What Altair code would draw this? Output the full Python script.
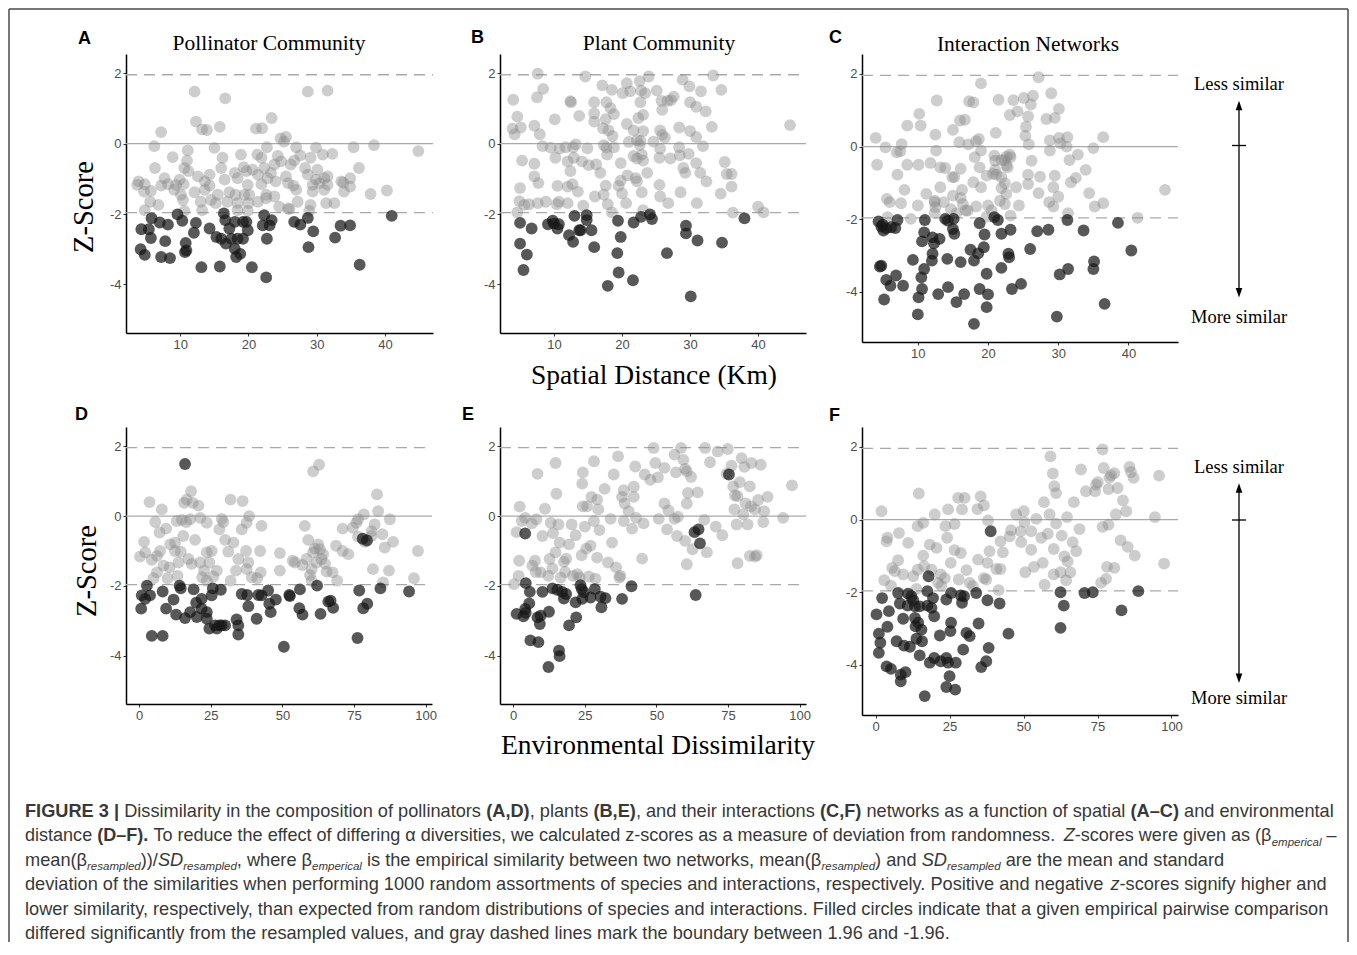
import altair as alt
import pandas as pd

SERIF = "Liberation Serif"
SANS = "Liberation Sans"

# ---------------- data (x, z-score) ----------------
A_light = [(12.1,1.48),(16.6,1.29),(28.7,1.48),(31.6,1.51),(12.3,0.63),(7.2,0.33),(13.2,0.41),(13.9,0.39),(15.8,0.48),(21.1,0.43),(22.0,0.44),(23.4,0.73),(6.2,-0.07),(15.0,-0.12),(24.7,0.15),(25.5,0.19),(25.2,0.06),(27.0,-0.10),(29.9,-0.11),(22.7,-0.10),(38.4,-0.04),(35.4,-0.10),(44.9,-0.21),(32.3,-0.29),(11.1,-0.19),(8.9,-0.38),(11.0,-0.48),(16.2,-0.40),(18.9,-0.31),(21.3,-0.31),(21.9,-0.40),(24.3,-0.35),(27.6,-0.33),(29.1,-0.40),(30.9,-0.31),(6.3,-0.69),(10.6,-0.69),(16.0,-0.69),(20.6,-0.74),(19.3,-0.67),(22.3,-0.69),(23.8,-0.59),(24.8,-0.50),(26.2,-0.59),(26.7,-0.48),(28.3,-0.69),(30.1,-0.74),(36.2,-0.69),(11.2,-0.78),(18.0,-0.83),(19.7,-0.78),(21.4,-0.88),(23.3,-0.83),(25.5,-0.93),(28.7,-0.88),(31.6,-0.93),(3.9,-1.07),(7.7,-0.98),(9.9,-1.02),(12.6,-0.93),(14.3,-0.88),(16.5,-1.02),(18.4,-0.98),(22.8,-0.98),(25.8,-1.12),(29.9,-1.02),(31.1,-0.98),(33.6,-1.07),(34.9,-0.98),(3.7,-1.17),(4.8,-1.15),(7.2,-1.19),(8.2,-1.15),(9.4,-1.17),(10.5,-1.15),(13.6,-1.07),(14.3,-1.19),(19.9,-1.17),(21.9,-1.15),(24.0,-1.07),(26.6,-1.19),(29.4,-1.17),(30.4,-1.12),(31.6,-1.17),(33.9,-1.11),(34.9,-1.22),(40.3,-1.33),(4.7,-1.36),(5.7,-1.34),(9.1,-1.31),(10.1,-1.45),(12.1,-1.38),(13.6,-1.31),(15.5,-1.45),(17.2,-1.38),(18.1,-1.45),(19.4,-1.45),(20.1,-1.45),(22.6,-1.45),(23.8,-1.50),(27.0,-1.31),(29.4,-1.36),(31.1,-1.31),(34.0,-1.36),(37.9,-1.43),(5.6,-1.65),(6.8,-1.74),(10.4,-1.60),(13.0,-1.65),(14.5,-1.60),(15.2,-1.69),(16.9,-1.65),(18.4,-1.69),(20.0,-1.69),(21.4,-1.65),(22.6,-1.55),(24.5,-1.79),(25.8,-1.84),(27.2,-1.65),(29.1,-1.74),(31.4,-1.69),(32.6,-1.69),(4.8,-1.89),(10.6,-1.91),(13.2,-1.89),(18.4,-1.89),(19.9,-1.91),(26.0,-1.86),(28.9,-1.91)]
A_dark = [(4.3,-2.43),(5.8,-2.12),(5.4,-2.43),(5.7,-2.68),(7.0,-2.24),(8.2,-2.30),(7.8,-2.77),(4.2,-3.00),(4.8,-3.16),(7.2,-3.22),(8.5,-3.25),(9.6,-2.01),(10.3,-2.19),(10.8,-2.82),(10.7,-3.08),(10.9,-3.03),(12.3,-2.25),(12.0,-2.53),(13.1,-3.51),(14.3,-2.41),(15.3,-2.65),(15.8,-3.49),(16.4,-1.98),(16.6,-2.17),(16.0,-2.70),(16.7,-2.84),(17.2,-2.41),(17.5,-2.70),(18.0,-2.22),(18.0,-2.99),(18.2,-3.22),(18.4,-2.70),(18.8,-3.13),(19.2,-2.22),(19.2,-2.70),(19.7,-2.22),(19.9,-2.46),(20.5,-3.51),(22.3,-2.03),(22.1,-2.32),(22.7,-2.70),(22.6,-3.80),(23.4,-2.17),(23.1,-2.32),(26.7,-2.22),(27.6,-2.30),(28.7,-2.11),(29.5,-2.49),(28.8,-2.94),(32.7,-2.67),(33.5,-2.33),(34.9,-2.32),(36.3,-3.44),(41.0,-2.05)]

B_light = [(7.6,1.99),(14.6,1.91),(23.9,1.91),(33.4,1.94),(4.0,1.25),(7.5,1.32),(8.4,1.56),(17.1,1.66),(18.5,1.53),(20.7,1.72),(21.2,1.49),(20.1,1.44),(22.6,1.78),(22.8,1.51),(23.4,1.44),(25.1,1.51),(27.6,1.34),(27.2,1.24),(28.9,1.82),(29.9,1.63),(31.6,1.49),(34.6,1.53),(12.5,1.18),(12.4,1.21),(15.9,1.18),(17.7,1.18),(18.3,1.01),(22.7,1.18),(25.8,1.22),(25.9,0.96),(26.7,1.22),(30.0,1.18),(30.9,1.05),(32.3,0.92),(4.6,0.77),(10.1,0.69),(13.7,0.79),(15.9,0.86),(17.6,0.70),(18.8,0.84),(23.1,0.82),(22.4,0.73),(4.2,0.27),(5.1,0.46),(3.9,0.43),(7.1,0.51),(7.9,0.27),(15.9,0.63),(17.2,0.44),(18.0,0.38),(18.6,0.22),(20.7,0.56),(21.7,0.38),(23.1,0.36),(25.6,0.38),(25.9,0.25),(26.3,0.17),(28.4,0.46),(30.0,0.36),(30.9,0.19),(33.2,0.48),(44.7,0.53),(8.3,-0.07),(9.5,-0.11),(10.8,-0.14),(11.7,-0.10),(12.8,-0.10),(13.2,-0.02),(14.9,-0.13),(17.3,-0.04),(17.7,-0.11),(18.8,-0.10),(21.0,0.05),(22.2,0.10),(22.7,0.08),(22.6,-0.04),(24.6,0.06),(25.6,-0.14),(28.4,-0.10),(31.9,-0.07),(10.2,-0.40),(12.0,-0.50),(12.9,-0.40),(14.1,-0.50),(15.1,-0.61),(16.2,-0.59),(17.8,-0.31),(19.8,-0.55),(21.7,-0.35),(22.2,-0.42),(22.9,-0.31),(23.1,-0.48),(25.5,-0.40),(27.1,-0.42),(28.5,-0.33),(29.8,-0.29),(5.3,-0.48),(7.1,-0.57),(12.4,-0.78),(16.8,-0.83),(23.7,-0.83),(29.0,-0.69),(29.3,-0.83),(30.9,-0.55),(31.5,-0.83),(35.1,-0.52),(35.4,-0.86),(36.1,-0.86),(7.1,-0.93),(7.7,-1.12),(10.5,-1.20),(12.0,-1.22),(12.7,-1.15),(17.6,-1.19),(19.8,-1.05),(20.8,-0.90),(22.0,-0.98),(22.2,-1.07),(25.5,-1.17),(32.4,-1.07),(36.1,-1.22),(5.0,-1.26),(13.5,-1.36),(19.5,-1.20),(20.0,-1.41),(22.9,-1.38),(28.6,-1.38),(34.5,-1.42),(16.0,-1.50),(17.3,-1.45),(25.6,-1.50),(31.0,-1.69),(4.9,-1.63),(5.6,-1.74),(6.3,-1.72),(7.6,-1.69),(8.8,-1.65),(10.4,-1.72),(10.7,-1.65),(12.0,-1.69),(14.3,-1.76),(17.9,-1.72),(20.6,-1.69),(23.1,-1.89),(26.8,-1.69),(4.6,-1.95),(18.5,-1.95),(36.3,-1.96),(40.0,-1.79),(40.8,-1.95)]
B_dark = [(5.0,-2.25),(6.7,-2.41),(5.0,-2.84),(6.0,-3.15),(5.5,-3.59),(9.1,-2.29),(9.8,-2.19),(10.0,-2.27),(10.5,-2.41),(10.7,-2.29),(12.2,-2.60),(12.8,-2.79),(13.0,-2.05),(13.7,-2.46),(13.9,-2.46),(14.8,-2.03),(14.8,-2.17),(15.5,-2.46),(15.9,-2.94),(19.4,-2.19),(19.8,-2.65),(19.3,-3.11),(19.5,-3.66),(17.9,-4.04),(21.7,-2.24),(21.6,-3.88),(22.8,-2.08),(24.1,-2.01),(24.4,-2.14),(29.4,-2.33),(29.4,-2.55),(31.1,-2.75),(26.6,-3.11),(30.1,-4.34),(34.7,-2.81),(38.0,-2.12)]

C_light = [(4.0,0.24),(4.2,-0.50),(5.4,-0.02),(7.0,-0.16),(7.5,-0.13),(7.7,0.07),(8.5,0.58),(10.2,0.90),(10.4,0.58),(12.7,1.27),(12.5,0.33),(12.6,-0.11),(7.1,-0.77),(8.5,-0.50),(10.1,-0.50),(11.8,-0.45),(13.2,-0.57),(13.9,-0.59),(15.0,0.46),(16.0,0.72),(16.7,0.74),(15.9,0.12),(16.1,-0.61),(15.2,-0.84),(17.2,0.06),(17.3,1.25),(17.9,1.22),(19.0,1.74),(18.3,0.15),(18.7,0.21),(19.0,-0.11),(18.1,-0.29),(18.8,-0.57),(17.9,-0.98),(19.0,-1.12),(21.1,0.38),(21.5,1.29),(23.6,1.28),(23.1,0.87),(24.2,0.97),(25.1,1.34),(26.4,1.40),(26.1,1.16),(27.2,1.91),(29.0,1.47),(30.1,1.04),(28.3,0.76),(29.5,0.79),(25.4,0.55),(25.7,0.83),(25.3,0.30),(25.8,0.06),(28.8,0.17),(30.1,0.24),(30.3,0.09),(31.3,0.26),(31.2,0.00),(36.4,0.26),(35.0,-0.04),(28.8,-0.11),(32.8,-0.22),(31.6,-0.37),(33.9,-0.64),(32.5,-0.86),(31.8,-0.98),(34.4,-1.28),(35.2,-1.65),(36.4,-1.56),(45.2,-1.19),(41.3,-1.96),(31.4,-1.83),(29.3,-1.12),(30.0,-1.38),(28.7,-1.53),(29.3,-1.65),(27.2,-1.28),(27.4,-0.83),(29.5,-0.80),(25.7,-0.77),(25.7,-1.03),(26.2,-0.39),(23.1,-0.22),(22.6,-0.28),(22.4,-0.37),(23.2,-0.29),(21.9,-0.37),(21.0,-0.39),(21.2,-0.77),(21.0,-0.64),(22.6,-0.52),(22.8,-0.57),(21.9,-0.84),(22.4,-1.01),(21.9,-1.14),(22.6,-1.30),(21.7,-1.49),(22.4,-1.58),(24.0,-1.12),(24.4,-1.62),(23.2,-1.90),(20.0,-1.62),(19.8,-1.93),(20.5,-1.76),(18.3,-1.65),(17.1,-1.76),(16.8,-1.76),(16.3,-1.19),(16.1,-1.41),(15.0,-1.35),(16.4,-1.58),(15.5,-1.83),(14.7,-1.72),(13.7,-1.53),(13.2,-1.12),(12.4,-1.53),(12.5,-1.67),(12.4,-1.83),(12.4,-1.49),(11.2,-1.30),(10.0,-1.62),(9.0,-1.99),(8.1,-1.19),(7.6,-1.56),(5.6,-1.44),(6.0,-1.53),(5.7,-1.94),(14.9,-0.84),(20.7,-0.75),(20.9,-0.25),(19.8,-0.80)]
C_dark = [(4.4,-2.06),(5.0,-2.15),(4.8,-2.20),(5.1,-2.31),(5.5,-2.25),(6.2,-2.22),(6.8,-2.24),(7.1,-2.02),(4.8,-3.28),(4.6,-3.30),(5.5,-3.67),(6.1,-3.83),(6.9,-3.55),(7.9,-3.83),(5.2,-4.21),(9.3,-3.12),(10.0,-4.62),(10.1,-4.15),(10.6,-3.92),(10.5,-3.60),(10.9,-3.37),(11.0,-2.02),(10.9,-2.36),(10.6,-2.61),(12.1,-2.50),(12.3,-2.66),(12.1,-2.95),(12.0,-3.14),(13.1,-2.54),(12.9,-4.06),(13.9,-1.99),(14.3,-2.04),(15.0,-2.27),(15.2,-2.40),(15.1,-1.99),(14.2,-3.09),(14.3,-3.87),(16.1,-3.18),(15.5,-4.28),(16.6,-4.06),(17.5,-2.84),(18.0,-3.14),(18.6,-2.94),(19.4,-2.77),(18.8,-2.11),(19.5,-2.42),(18.8,-3.92),(20.0,-4.07),(19.8,-4.42),(18.0,-4.88),(19.8,-3.50),(20.9,-1.94),(21.4,-2.02),(21.9,-2.40),(21.9,-3.34),(22.9,-2.95),(23.0,-3.05),(23.2,-2.29),(23.4,-3.92),(24.7,-3.78),(26.0,-2.82),(27.0,-2.33),(28.6,-2.29),(31.3,-2.02),(33.6,-2.31),(38.5,-2.10),(30.2,-3.52),(31.4,-3.37),(35.0,-3.37),(35.1,-3.16),(29.8,-4.68),(36.6,-4.33),(40.4,-2.86)]

D_light = [(3.6,0.40),(0.3,-1.16),(1.7,-0.74),(2.1,-1.04),(4.4,-1.25),(6.2,-1.14),(5.6,-0.17),(7.1,-0.47),(7.9,0.19),(9.4,-0.36),(7.3,-1.00),(8.5,-1.42),(6.2,-1.61),(5.0,-1.78),(9.9,-1.78),(10.6,-1.47),(10.8,-0.81),(12.5,-0.76),(13.1,-0.14),(14.9,-0.11),(15.7,0.38),(16.6,0.47),(18.1,0.71),(18.7,0.38),(20.7,0.30),(17.8,-0.09),(16.4,-0.17),(12.5,-1.00),(13.7,-1.33),(13.4,-1.71),(15.4,-0.57),(14.5,-1.02),(17.2,-1.23),(18.3,-1.37),(19.5,-0.68),(21.3,-0.05),(23.6,-0.19),(22.6,-1.56),(23.6,-1.04),(24.5,-1.33),(25.3,-1.00),(25.9,-1.73),(23.6,-1.85),(27.1,-1.56),(28.0,-0.38),(28.8,-0.08),(29.4,-0.17),(30.0,-0.68),(31.1,-1.02),(31.9,0.47),(32.9,-0.76),(31.9,-1.85),(34.6,-1.23),(33.8,-1.56),(36.1,0.43),(35.8,-0.38),(37.5,-0.19),(38.4,0.00),(37.3,-1.00),(37.5,-1.52),(38.1,-1.33),(39.3,-1.75),(41.2,-1.78),(42.7,-0.28),(42.2,-1.00),(42.4,-1.61),(49.1,-1.06),(49.1,-1.56),(53.6,-1.28),(54.4,-1.33),(57.8,-0.28),(57.0,-1.40),(59.0,-0.68),(58.4,-1.23),(60.2,-1.52),(59.6,-1.69),(60.2,-1.85),(60.7,1.28),(62.8,1.47),(60.7,-1.04),(61.3,-0.93),(62.5,-0.81),(63.1,-0.95),(64.2,-1.09),(63.6,-1.23),(64.9,-1.37),(65.4,-1.59),(61.9,-1.33),(67.5,-1.61),(68.7,-0.85),(69.1,-1.85),(71.0,-0.36),(71.0,-1.00),(73.0,-1.09),(74.5,-0.33),(75.8,-0.19),(76.4,-0.09),(76.4,-0.59),(78.4,0.05),(78.7,-0.74),(81.1,-0.43),(81.1,-0.57),(82.2,-0.24),(83.0,0.62),(83.4,0.14),(81.6,-1.52),(84.9,-0.52),(85.7,-0.90),(85.1,-1.90),(87.2,-1.56),(87.5,-0.09),(88.6,-0.74),(97.3,-1.00),(95.9,-1.78),(21.3,-1.33),(22.0,-1.75)]
D_dark = [(16.0,1.49),(0.7,-2.65),(0.9,-2.27),(2.1,-2.37),(2.7,-1.99),(3.8,-2.27),(4.4,-3.43),(8.2,-2.16),(8.2,-3.43),(9.4,-2.65),(12.0,-2.39),(12.9,-2.82),(14.1,-1.99),(14.5,-2.07),(16.0,-2.92),(17.8,-2.75),(19.0,-2.10),(19.9,-2.48),(20.1,-2.89),(21.8,-2.37),(21.8,-2.65),(23.6,-2.75),(23.6,-2.94),(24.5,-3.22),(25.3,-2.27),(25.7,-2.07),(26.5,-3.13),(27.1,-3.22),(28.0,-3.13),(28.8,-3.13),(28.5,-2.11),(30.0,-3.13),(34.0,-2.96),(34.6,-3.13),(34.6,-3.39),(35.8,-2.23),(37.7,-2.26),(38.1,-2.58),(41.0,-2.94),(41.6,-2.26),(42.7,-2.27),(45.0,-2.13),(45.4,-2.51),(45.9,-2.75),(47.7,-2.39),(50.5,-3.74),(52.4,-2.26),(52.6,-2.29),(56.1,-2.10),(55.9,-2.64),(57.0,-2.82),(62.1,-1.99),(63.3,-2.80),(66.0,-2.45),(66.8,-2.42),(67.7,-2.63),(76.8,-2.13),(76.2,-3.49),(78.2,-2.64),(79.6,-2.51),(84.2,-2.07),(94.2,-2.16),(78.0,-0.65),(79.5,-0.70)]

E_light = [(0.3,-1.95),(1.9,-1.71),(2.1,-1.28),(1.2,-0.46),(2.3,0.27),(3.0,-0.14),(4.2,-0.05),(6.5,-0.21),(8.1,-0.09),(8.5,1.21),(6.7,-1.42),(7.6,-1.28),(7.9,-1.60),(9.6,-1.61),(10.2,-0.57),(11.1,0.21),(12.3,-1.71),(12.7,-1.23),(13.1,-0.19),(13.7,-1.50),(13.9,-0.49),(14.8,1.52),(15.1,0.64),(15.8,-0.24),(14.8,-1.04),(16.2,-0.76),(16.6,-1.76),(17.7,-1.31),(18.1,-1.60),(18.5,-1.22),(19.5,-0.81),(20.4,-0.24),(20.9,-1.71),(21.8,-0.55),(22.4,-1.66),(23.2,-1.76),(23.9,-1.12),(24.1,0.93),(24.3,1.25),(24.3,0.28),(25.5,-0.93),(25.8,0.28),(25.0,-0.30),(26.4,-1.73),(27.0,-0.85),(27.3,0.55),(28.2,1.57),(28.2,-0.14),(28.7,-1.79),(29.3,0.47),(29.7,0.19),(29.3,-1.19),(30.1,-0.40),(31.9,0.78),(33.1,-1.33),(34.0,-0.08),(34.5,-0.76),(35.1,1.19),(35.9,-1.47),(36.6,1.71),(37.1,-1.76),(37.4,-1.71),(38.0,0.55),(38.6,0.74),(38.9,0.36),(38.6,-0.14),(40.3,0.14),(41.5,-0.36),(42.1,0.84),(42.1,0.55),(42.6,1.42),(42.9,-0.05),(45.0,-1.22),(45.5,-0.21),(45.9,1.19),(47.9,1.04),(49.0,1.95),(49.6,1.52),(50.5,1.11),(50.8,-0.08),(52.8,1.38),(52.8,0.36),(54.2,0.16),(53.7,-0.38),(56.3,1.76),(56.8,1.25),(56.3,-0.08),(57.5,-0.02),(57.2,-0.57),(58.6,1.95),(59.4,1.61),(60.0,1.35),(60.6,1.28),(62.1,1.12),(60.6,0.36),(61.0,0.66),(60.6,-1.38),(60.0,-0.71),(62.6,-0.95),(64.4,0.68),(66.7,-0.11),(67.0,1.95),(67.6,-1.04),(68.7,1.54),(70.7,-0.30),(71.4,1.85),(73.0,-0.55),(74.5,1.21),(74.9,1.92),(76.2,1.44),(76.8,0.85),(77.2,0.19),(77.4,0.59),(78.3,0.57),(78.0,-0.24),(78.3,-1.35),(79.1,0.97),(79.7,1.66),(80.3,0.05),(80.7,1.41),(81.1,0.36),(81.8,-0.24),(82.6,0.85),(83.2,1.52),(82.6,-1.14),(84.4,-1.16),(85.0,-1.12),(84.4,0.19),(85.5,0.46),(86.4,1.47),(87.3,-0.17),(87.6,0.14),(88.8,0.55),(94.2,-0.05),(97.3,0.88),(83.0,0.28)]
E_dark = [(1.2,-2.80),(3.6,-2.87),(4.2,-0.50),(4.4,-1.92),(4.2,-2.66),(5.6,-2.50),(5.8,-2.17),(4.4,-2.77),(6.0,-3.56),(8.8,-3.61),(8.5,-2.90),(9.3,-3.09),(9.6,-2.85),(10.2,-2.17),(12.5,-2.74),(12.3,-4.32),(13.7,-2.07),(15.4,-2.11),(16.0,-3.85),(16.2,-4.01),(17.1,-2.17),(17.7,-2.36),(18.5,-2.23),(19.5,-3.13),(21.8,-2.47),(22.0,-2.90),(23.5,-1.98),(24.1,-2.37),(23.9,-2.09),(24.7,-2.18),(27.0,-2.33),(28.5,-2.09),(30.5,-2.31),(30.8,-2.61),(32.2,-2.35),(38.0,-2.37),(41.3,-2.01),(63.7,-2.26),(75.3,1.19),(63.3,-0.46),(64.7,-0.38),(65.2,-0.78)]

F_light = [(2.0,0.23),(4.0,-0.50),(3.7,-0.60),(2.9,-1.67),(5.2,-1.82),(5.6,-1.33),(6.5,-1.42),(7.6,-1.12),(7.9,-0.37),(9.3,-1.51),(11.0,-0.64),(12.7,-1.56),(14.2,-1.38),(14.6,0.72),(14.2,-0.18),(16.1,-0.09),(16.1,-0.99),(16.4,-1.28),(13.8,-1.91),(18.3,-0.69),(18.9,-1.38),(20.0,0.14),(20.6,-0.78),(21.1,-1.74),(22.0,-1.51),(23.4,-1.61),(22.2,-1.82),(23.6,-0.18),(24.2,-0.50),(24.5,0.28),(25.4,-1.19),(26.7,-0.12),(26.7,-0.84),(27.9,0.60),(28.1,-1.65),(28.8,-0.92),(29.2,0.28),(30.1,0.60),(30.7,-1.39),(31.8,-1.74),(32.9,-1.83),(34.4,0.29),(34.6,-1.10),(35.5,0.64),(36.6,0.39),(36.6,-1.61),(37.4,-1.65),(37.8,-1.19),(38.0,-0.02),(38.5,-0.87),(40.8,-1.36),(41.6,-1.94),(42.2,-0.60),(43.0,-0.90),(42.2,-1.36),(45.3,-0.46),(45.8,-0.29),(47.5,0.14),(49.0,-0.32),(49.2,-0.62),(50.1,0.23),(50.3,-0.07),(50.6,-1.45),(52.6,-0.32),(52.6,-0.83),(53.5,-1.30),(54.3,0.02),(56.0,-0.50),(56.5,-1.19),(56.9,0.48),(57.1,-1.79),(58.2,-0.39),(58.8,0.14),(59.1,1.74),(59.9,1.27),(60.2,-1.51),(60.4,0.92),(61.0,0.73),(60.2,-0.81),(61.0,-0.11),(62.5,-1.45),(62.9,-0.44),(63.8,-1.01),(64.7,0.07),(64.9,-1.15),(65.8,-1.45),(64.4,-1.67),(66.6,-0.62),(67.0,0.48),(67.8,-0.87),(68.9,-0.26),(69.4,1.38),(71.1,0.78),(74.2,0.78),(74.5,0.96),(75.1,1.03),(76.2,-1.74),(76.7,1.93),(77.1,1.42),(76.7,-0.20),(77.9,-1.63),(78.2,-1.30),(78.7,0.84),(78.7,-0.14),(79.0,1.15),(79.6,1.22),(80.7,1.28),(81.2,0.14),(81.8,0.87),(80.7,-1.33),(82.8,-0.57),(83.6,0.53),(84.7,0.23),(85.2,-0.75),(85.8,1.45),(86.3,1.31),(87.2,1.15),(87.6,-0.99),(94.4,0.07),(95.8,1.21),(97.5,-1.21)]
F_dark = [(2.2,-2.16),(0.3,-2.61),(4.5,-2.52),(4.0,-2.95),(1.1,-3.14),(1.6,-3.39),(1.1,-3.67),(3.7,-4.04),(5.2,-4.11),(7.1,-3.35),(7.6,-2.02),(8.2,-2.31),(8.5,-4.27),(8.5,-4.45),(9.3,-2.73),(9.6,-3.47),(10.1,-4.20),(11.0,-2.04),(10.8,-2.37),(11.6,-3.50),(12.1,-2.11),(12.7,-2.22),(13.3,-2.39),(13.3,-2.71),(13.5,-2.94),(13.8,-3.28),(14.4,-2.84),(14.9,-2.39),(14.9,-3.74),(15.5,-3.03),(15.7,-3.35),(16.6,-4.86),(17.5,-1.97),(17.5,-2.37),(17.9,-1.56),(18.3,-3.94),(18.9,-2.43),(19.4,-2.16),(19.8,-2.66),(19.8,-3.81),(21.7,-3.19),(22.0,-3.90),(23.9,-2.20),(23.9,-3.81),(24.5,-3.94),(23.9,-4.61),(25.0,-4.31),(25.3,-3.07),(25.5,-2.84),(25.5,-2.02),(27.1,-3.94),(26.9,-4.68),(28.8,-2.09),(29.2,-2.29),(29.9,-2.11),(30.7,-3.12),(31.8,-3.21),(29.6,-3.58),(34.0,-2.02),(34.8,-2.86),(35.7,-4.06),(37.4,-3.90),(38.2,-3.53),(37.8,-2.22),(38.9,-0.32),(41.9,-2.31),(44.9,-3.14),(62.5,-2.00),(63.6,-2.37),(62.5,-2.98),(70.6,-2.02),(73.4,-2.00),(83.1,-2.50),(88.8,-1.97)]

SIG_BOUNDS = [1.96, -1.96]
ZERO_LINE = [0]
Y_TICKS = [-4, -2, 0, 2]
X_TICKS_SPATIAL = [10, 20, 30, 40]
X_TICKS_ENV = [0, 25, 50, 75, 100]

YDOM = [-5.38, 2.55]
XDOM_S = [2.05, 47.05]
XDOM_E = [-4.6, 102.2]


def one(v):
    return pd.DataFrame({"t": [v]})


def txt(s, x, y, **kw):
    return alt.Chart(one(s)).mark_text(**kw).encode(text="t:N", x=alt.value(x), y=alt.value(y))


def panel(light, dark, xdom, xticks, cell_w, w, h, letter, lpos, title=None, tpos=None,
          ytitle=None, xtitle=None, similar=None):
    df = pd.DataFrame([{"x": x, "z": z, "grp": "ns"} for x, z in light] +
                      [{"x": x, "z": z, "grp": "sig"} for x, z in dark])
    xs = alt.Scale(domain=xdom, nice=False, zero=False, range=[0, w])
    ys = alt.Scale(domain=YDOM, nice=False, zero=False)
    common = dict(grid=False, title=None, domainColor="black", domainWidth=1.5,
                  tickColor="#333333", tickSize=3, tickWidth=1, labelColor="#4d4d4d",
                  labelFont=SANS, labelFontSize=13, labelPadding=2,
                  labelExpr="'' + datum.value")
    xaxis = alt.Axis(values=xticks, **common)
    yaxis = alt.Axis(values=Y_TICKS, **common)
    X = alt.X("x:Q", scale=xs, axis=xaxis)
    Y = alt.Y("z:Q", scale=ys, axis=yaxis)

    zero = alt.Chart(pd.DataFrame({"z": ZERO_LINE})).mark_rule(
        color="#a9a9a9", strokeWidth=1.3).encode(y=Y, x=alt.value(0), x2=alt.value(w))
    dash = alt.Chart(pd.DataFrame({"z": SIG_BOUNDS})).mark_rule(
        color="#a9a9a9", strokeWidth=1.3, strokeDash=[11, 7]).encode(
        y=Y, x=alt.value(0), x2=alt.value(w))
    pts = alt.Chart(df).mark_circle(size=140, strokeWidth=0).encode(
        x=X, y=Y,
        color=alt.condition(alt.datum.grp == "sig", alt.value("#181818"), alt.value("#888888")),
        opacity=alt.condition(alt.datum.grp == "sig", alt.value(0.72), alt.value(0.42)),
    )
    layers = [zero, dash, pts,
              txt(letter, lpos[0], lpos[1], font=SANS, fontWeight="bold", fontSize=18,
                  align="left", baseline="alphabetic", color="black")]
    if title:
        layers.append(txt(title, tpos[0], tpos[1], font=SERIF, fontSize=21.5, align="center",
                          baseline="alphabetic", color="black"))
    if ytitle:
        layers.append(txt("Z-Score", ytitle[0], ytitle[1], font=SERIF, fontSize=28.5,
                          align="center", baseline="middle", angle=270, color="black"))
    if xtitle:
        layers.append(txt(xtitle[0], xtitle[1], xtitle[2], font=SERIF, fontSize=27.5,
                          align="center", baseline="alphabetic", color="black"))
    if similar:
        ax, less_y, top_tip, bot_tip, tick_y, more_y = similar
        layers += [
            txt("Less similar", ax, less_y, font=SERIF, fontSize=18.5, align="center",
                baseline="middle", color="black"),
            txt("More similar", ax, more_y, font=SERIF, fontSize=18.5, align="center",
                baseline="middle", color="black"),
            alt.Chart(one("a")).mark_rule(color="black", strokeWidth=1.3).encode(
                x=alt.value(ax), y=alt.value(top_tip + 4), y2=alt.value(bot_tip - 4)),
            alt.Chart(one("a")).mark_rule(color="black", strokeWidth=1.3).encode(
                x=alt.value(ax - 7), x2=alt.value(ax + 7), y=alt.value(tick_y)),
            alt.Chart(one("a")).mark_point(shape="M0,-1L0.7,1L-0.7,1Z", filled=True,
                                           color="black", opacity=1, size=90).encode(
                x=alt.value(ax), y=alt.value(top_tip + 4.7)),
            alt.Chart(one("a")).mark_point(shape="M0,1L0.7,-1L-0.7,-1Z", filled=True,
                                           color="black", opacity=1, size=90).encode(
                x=alt.value(ax), y=alt.value(bot_tip - 4.7)),
        ]
    return alt.layer(*layers).properties(width=cell_w, height=h)


# grid cells: column lefts at 125, 499, 861 with a 56 px column gap
A = panel(A_light, A_dark, XDOM_S, X_TICKS_SPATIAL, 318, 307, 279, "A", (-48, -10),
          "Pollinator Community", (143, -4.5), ytitle=(-42, 153))
B = panel(B_light, B_dark, XDOM_S, X_TICKS_SPATIAL, 306, 306, 279, "B", (-29, -11),
          "Plant Community", (159, -4.5), xtitle=("Spatial Distance (Km)", 154, 330))
C = panel(C_light, C_dark, XDOM_S, X_TICKS_SPATIAL, 316, 316, 288, "C", (-33, -11),
          "Interaction Networks", (166, -3.5),
          similar=(377, 29.7, 46.7, 243.4, 91.5, 263.4))
D = panel(D_light, D_dark, XDOM_E, X_TICKS_ENV, 318, 306, 277, "D", (-51, -7), ytitle=(-39, 144))
E = panel(E_light, E_dark, XDOM_E, X_TICKS_ENV, 306, 306, 277, "E", (-38, -7),
          xtitle=("Environmental Dissimilarity", 158, 327))
F = panel(F_light, F_dark, XDOM_E, X_TICKS_ENV, 316, 316, 288, "F", (-33, -6),
          similar=(377, 40.3, 56.3, 256, 93, 271))

# ---------------- caption ----------------
REG = {' ': 278, '!': 278, '"': 355, '#': 556, '$': 556, '%': 889, '&': 667, "'": 191, '(': 333,
       ')': 333, '*': 389, '+': 584, ',': 278, '-': 333, '.': 278, '/': 278, ':': 278, ';': 278,
       '?': 556, '|': 260, '–': 556, 'α': 578, 'β': 575,
       'A': 667, 'B': 667, 'C': 722, 'D': 722, 'E': 667, 'F': 611, 'G': 778, 'H': 722, 'I': 278,
       'J': 500, 'K': 667, 'L': 556, 'M': 833, 'N': 722, 'O': 778, 'P': 667, 'Q': 778, 'R': 722,
       'S': 667, 'T': 611, 'U': 722, 'V': 667, 'W': 944, 'X': 667, 'Y': 667, 'Z': 611,
       'a': 556, 'b': 556, 'c': 500, 'd': 556, 'e': 556, 'f': 278, 'g': 556, 'h': 556, 'i': 222,
       'j': 222, 'k': 500, 'l': 222, 'm': 833, 'n': 556, 'o': 556, 'p': 556, 'q': 556, 'r': 333,
       's': 500, 't': 278, 'u': 556, 'v': 500, 'w': 722, 'x': 500, 'y': 500, 'z': 500}
for d in "0123456789":
    REG[d] = 556
BOLD = dict(REG)
BOLD.update({'A': 722, 'B': 722, 'E': 667, 'F': 611, 'G': 778, 'I': 278, 'R': 722, 'U': 722,
             '|': 280, 'D': 722, 'C': 722})

LINE_SIZES = [18.2, 18.05, 18.2, 18.2, 18.2, 18.2]
SUB_SIZE = 11.5

caption_lines = [
    [("FIGURE 3 |", "b"), (" Dissimilarity in the composition of pollinators ", "r"), ("(A,D)", "b"),
     (", plants ", "r"), ("(B,E)", "b"), (", and their interactions ", "r"), ("(C,F)", "b"),
     (" networks as a function of spatial ", "r"), ("(A–C)", "b"), (" and environmental", "r")],
    [("distance ", "r"), ("(D–F).", "b"),
     (" To reduce the effect of differing α diversities, we calculated z-scores as a measure of deviation from randomness. ", "r"),
     ("Z", "i"), ("-scores were given as (β", "r"), ("emperical", "s"), (" –", "r")],
    [("mean(β", "r"), ("resampled", "s"), ("))/", "r"), ("SD", "i"), ("resampled", "s"),
     (", where β", "r"), ("emperical", "s"),
     (" is the empirical similarity between two networks, mean(β", "r"), ("resampled", "s"),
     (") and ", "r"), ("SD", "i"), ("resampled", "s"), (" are the mean and standard", "r")],
    [("deviation of the similarities when performing 1000 random assortments of species and interactions, respectively. Positive and negative ", "r"),
     ("z", "i"), ("-scores signify higher and", "r")],
    [("lower similarity, respectively, than expected from random distributions of species and interactions. Filled circles indicate that a given empirical pairwise comparison", "r")],
    [("differed significantly from the resampled values, and gray dashed lines mark the boundary between 1.96 and -1.96.", "r")],
]

# caption cell origin is at page (125, 799)
CAP_X0 = -101
CAP_Y0 = 17
CAP_DY = 24.4


def seg_width(s, style, size):
    table = BOLD if style == "b" else REG
    sz = SUB_SIZE if style == "s" else size
    return sum(table.get(c, 556) for c in s) * sz / 1000.0


rows = []
for li, line in enumerate(caption_lines):
    x = CAP_X0
    size = LINE_SIZES[li]
    for s, style in line:
        lead = len(s) - len(s.lstrip(" "))
        px = x + seg_width(" " * lead, style, size)
        py = CAP_Y0 + li * CAP_DY + (4.5 if style == "s" else 0)
        rows.append({"t": s.strip(" "), "px": px, "py": py, "st": style,
                     "fs": SUB_SIZE if style == "s" else size})
        x += seg_width(s, style, size)
cap_df = pd.DataFrame(rows)


def cap_layer(style, **kw):
    return alt.Chart(cap_df[cap_df.st == style]).mark_text(
        align="left", baseline="alphabetic", font=SANS, color="#383838", **kw).encode(
        x=alt.X("px:Q", scale=None, axis=None), y=alt.Y("py:Q", scale=None, axis=None),
        size=alt.Size("fs:Q", scale=None, legend=None), text="t:N")


# figure frame (left, top, right sides; the bottom edge lies below the picture)
FRAME = dict(color="#4a4a4a", strokeWidth=1.5)
FR_L, FR_R, FR_T, FR_B = -117, 1222, -791, 142
frame_top = alt.Chart(one("f")).mark_rule(**FRAME).encode(
    x=alt.value(FR_L), x2=alt.value(FR_R), y=alt.value(FR_T))
frame_left = alt.Chart(one("f")).mark_rule(**FRAME).encode(
    x=alt.value(FR_L), y=alt.value(FR_T), y2=alt.value(FR_B))
frame_right = alt.Chart(one("f")).mark_rule(**FRAME).encode(
    x=alt.value(FR_R), y=alt.value(FR_T), y2=alt.value(FR_B))

caption = alt.layer(
    frame_top, frame_left, frame_right,
    cap_layer("r"),
    cap_layer("b", fontWeight="bold"),
    cap_layer("i", fontStyle="italic"),
    cap_layer("s", fontStyle="italic"),
).properties(width=300, height=10)

chart = alt.concat(A, B, C, D, E, F, caption, columns=3,
                   spacing={"row": 85, "column": 56}, bounds="flush").properties(
    padding=0, background="white").configure_view(stroke=None)

chart.save("out.html", embed_options={"renderer": "svg", "actions": False})
